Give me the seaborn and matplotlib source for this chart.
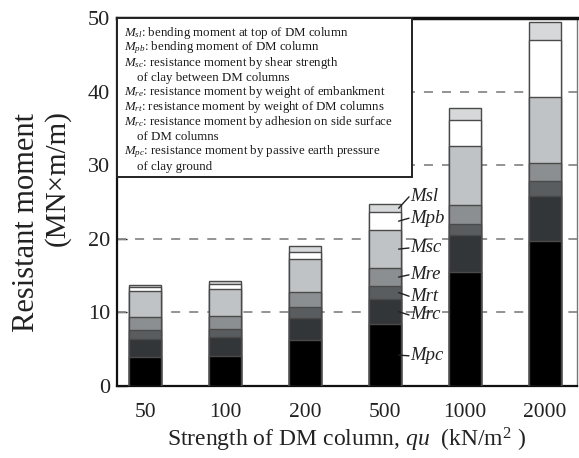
import numpy as np
import pandas as pd
import matplotlib
matplotlib.use("Agg")
import matplotlib.pyplot as plt
import seaborn as sns
from matplotlib.patches import Rectangle

# ---- data ----
categories = ["50", "100", "200", "500", "1000", "2000"]
Mpc = [4.0, 4.1, 6.25, 8.4, 15.5, 19.7]
Mrc = [2.4, 2.55, 3.05, 3.4, 5.0, 6.1]
Mrt = [1.2, 1.1, 1.5, 1.8, 1.55, 2.1]
Mre = [1.8, 1.75, 2.0, 2.4, 2.55, 2.35]
Msc = [3.5, 3.7, 4.45, 5.2, 8.05, 9.05]
Mpb = [0.5, 0.7, 1.0, 2.4, 3.55, 7.7]
Msl = [0.3, 0.4, 0.75, 1.1, 1.6, 2.4]

layer_names = ["Mpc", "Mrc", "Mrt", "Mre", "Msc", "Mpb", "Msl"]
layer_values = [Mpc, Mrc, Mrt, Mre, Msc, Mpb, Msl]
layer_colors = ["#000000", "#333638", "#5a5d60", "#8c8f92", "#c0c3c5", "#ffffff", "#d6d8d9"]

legend_lines = [
    r"$M_{sl}$: bending moment at top of DM column",
    r"$M_{pb}$: bending moment of DM column",
    r"$M_{sc}$: resistance moment by shear strength",
    r"    of clay between DM columns",
    r"$M_{re}$: resistance moment by weight of embankment",
    r"$M_{rt}$: resistance moment by weight of DM columns",
    r"$M_{rc}$: resistance moment by adhesion on side surface",
    r"    of DM columns",
    r"$M_{pc}$: resistance moment by passive earth pressure",
    r"    of clay ground",
]
annot_labels = ["Mpc", "Mrc", "Mrt", "Mre", "Msc", "Mpb", "Msl"]
annot_text_y = [4.1, 9.65, 12.2, 15.1, 18.75, 22.8, 25.7]

# ---- style ----
sns.set_theme(style="white")
plt.rcParams["font.family"] = ["Liberation Serif", "DejaVu Serif"]
plt.rcParams["mathtext.fontset"] = "custom"
plt.rcParams["mathtext.rm"] = "Liberation Serif"
plt.rcParams["mathtext.it"] = "Liberation Serif:italic"

W, H = 579, 458
fig = plt.figure(figsize=(W / 100, H / 100), dpi=100)
ax = fig.add_axes([117 / W, 72 / H, 460 / W, 368 / H])

# cumulative stacks
cum = np.cumsum(np.array(layer_values), axis=0)
df = pd.DataFrame({"cat": categories})
for i in range(len(layer_names) - 1, -1, -1):
    df["v"] = cum[i]
    sns.barplot(data=df, x="cat", y="v", order=categories, color=layer_colors[i],
                saturation=1, width=0.4, edgecolor="#4a4a4a", linewidth=1.0,
                ax=ax, zorder=3)

# grid lines
for g in [10, 20, 30, 40]:
    ax.axhline(g, color="#8a8a8a", lw=1.3, ls=(0, (5, 5)), zorder=1)

ax.set_ylim(0, 50)
ax.set_xlim(-0.35, 5.4)
ax.set_yticks([0, 10, 20, 30, 40, 50])
ax.tick_params(axis="y", direction="in", length=7, width=1, labelsize=16, pad=5,
               left=True, colors="#222222")
ax.tick_params(axis="x", length=0, labelsize=15.5, pad=12, colors="#222222")
ax.set_xlabel(r"Strength of DM column, $qu$  (kN/m$^2$ )", fontsize=17, labelpad=3,
              color="#222222")
ax.set_ylabel("")
fig.text(27 / W, 1 - 223 / H, "Resistant moment", rotation=90, fontsize=22,
         ha="center", va="center", color="#222222")
fig.text(57 / W, 1 - 178 / H, "(MN×m/m)", rotation=90, fontsize=21,
         ha="center", va="center", color="#222222")

for side in ["left", "bottom"]:
    ax.spines[side].set_color("#111111")
    ax.spines[side].set_linewidth(1.6)
ax.spines["top"].set_color("#111111")
ax.spines["top"].set_linewidth(2.5)
ax.spines["right"].set_color("#777777")
ax.spines["right"].set_linewidth(1.0)

# legend box
box_w = (412 - 117) / W
box_h = (177 - 18) / H
fig.patches.append(Rectangle((117 / W, 1 - 177 / H), box_w, box_h, transform=fig.transFigure,
                             facecolor="white", edgecolor="#222222", lw=1.4, zorder=5))
for j, line in enumerate(legend_lines):
    fig.text(124 / W, 1 - (33 + j * 14.85) / H, line, fontsize=9.3,
             ha="left", va="center", color="#1a1a1a", zorder=6)

# annotations on the 500 bar
bi = categories.index("500")
bottoms = np.vstack([np.zeros(len(categories)), cum[:-1]])
for i, name in enumerate(layer_names):
    k = annot_labels.index(name)
    mid = (bottoms[i][bi] + cum[i][bi]) / 2
    ty = annot_text_y[k]
    ax.plot([bi + 0.17, bi + 0.3], [mid, ty], color="#222222", lw=1.0, zorder=6)
    ax.text(bi + 0.31, ty, name, fontsize=13.5, style="italic", va="center", ha="left",
            color="#222222", zorder=6)

fig.savefig("out.png", dpi=100)
